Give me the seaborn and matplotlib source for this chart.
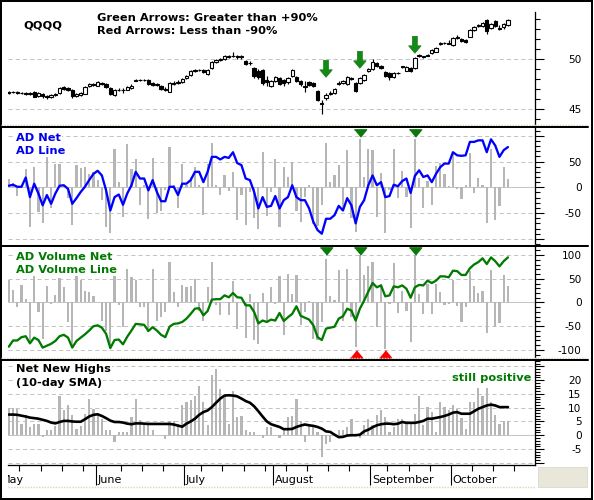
import numpy as np
import matplotlib
matplotlib.use("Agg")
import matplotlib.pyplot as plt
import seaborn as sns
from matplotlib.transforms import blended_transform_factory
from matplotlib.lines import Line2D
from matplotlib.patches import Rectangle
from matplotlib.ticker import MultipleLocator

# ---------------- data (trading days, May 1 2007 = day 0) ----------------
days = list(range(1, 120))

price_open = [
    46.6, 46.7, 46.7, 46.6, 46.6, 46.5, 46.7, 46.3, 46.5, 46.3,
    46.2, 46.4, 46.6, 47.2, 47.1, 46.9, 46.3, 46.4, 46.5, 47.3,
    47.5, 47.3, 47.6, 47.5, 47.1, 46.4, 46.9, 46.9, 46.9, 47.1,
    47.8, 47.9, 47.9, 47.9, 47.6, 47.4, 47.3, 47.0, 46.7, 47.6,
    47.6, 47.7, 48.1, 48.4, 48.8, 48.9, 48.9, 48.5, 49.1, 49.7,
    49.9, 50.0, 50.2, 50.3, 50.3, 50.2, 49.8, 49.6, 49.1, 48.8,
    48.9, 47.9, 47.3, 47.8, 48.1, 47.9, 47.7, 48.3, 48.2, 47.8,
    47.3, 47.7, 47.6, 46.8, 45.5, 46.1, 46.5, 46.6, 47.5, 47.6,
    47.5, 48.1, 47.6, 47.6, 47.9, 48.8, 49.0, 49.6, 49.3, 48.7,
    48.6, 48.2, 48.6, 49.2, 48.8, 49.1, 49.1, 50.3, 50.3, 50.3,
    50.6, 50.7, 51.5, 51.6, 51.5, 51.4, 52.1, 52.0, 51.9, 52.2,
    52.9, 53.3, 53.3, 53.9, 53.1, 53.8, 53.1, 53.2, 53.4]
price_close = [
    46.7, 46.7, 46.6, 46.6, 46.5, 46.6, 46.2, 46.6, 46.3, 46.2,
    46.4, 46.5, 47.1, 47.0, 46.9, 46.3, 46.5, 46.6, 47.2, 47.5,
    47.4, 47.7, 47.5, 47.2, 46.5, 46.9, 46.9, 46.9, 47.2, 47.3,
    47.9, 47.9, 47.9, 47.5, 47.4, 47.5, 47.0, 46.9, 47.6, 47.5,
    47.7, 48.0, 48.3, 48.8, 48.9, 48.9, 48.7, 48.9, 49.7, 49.9,
    50.0, 50.3, 50.3, 50.3, 50.2, 50.3, 49.5, 49.6, 48.3, 48.2,
    47.6, 47.7, 47.8, 48.2, 47.5, 47.6, 48.1, 48.9, 47.8, 47.5,
    47.2, 47.4, 47.3, 45.9, 45.6, 46.4, 46.6, 47.0, 47.6, 47.8,
    48.2, 48.0, 46.8, 48.1, 48.4, 49.0, 49.7, 49.3, 49.1, 48.3,
    48.2, 48.6, 48.6, 49.3, 49.2, 48.8, 50.1, 50.4, 50.2, 50.4,
    50.9, 51.1, 51.6, 51.6, 51.6, 52.1, 52.2, 51.8, 51.7, 52.9,
    53.2, 53.4, 53.6, 52.8, 53.5, 53.3, 53.0, 53.5, 53.9]
price_high = [
    46.8, 46.8, 46.8, 46.7, 46.7, 46.7, 46.8, 46.7, 46.6, 46.4,
    46.5, 46.6, 47.2, 47.3, 47.2, 47.0, 46.6, 46.7, 47.3, 47.6,
    47.6, 47.8, 47.7, 47.6, 47.2, 47.0, 47.1, 47.1, 47.3, 47.5,
    48.0, 48.0, 48.0, 48.0, 47.7, 47.6, 47.4, 47.2, 47.7, 47.8,
    47.9, 48.1, 48.4, 48.9, 49.0, 49.0, 49.0, 49.0, 49.8, 50.0,
    50.1, 50.4, 50.4, 50.7, 50.4, 50.4, 49.9, 49.8, 49.2, 49.0,
    49.0, 48.3, 47.9, 48.3, 48.2, 48.0, 48.2, 49.0, 48.3, 47.9,
    47.8, 47.8, 47.7, 46.9, 45.9, 46.6, 46.8, 47.1, 47.8, 47.9,
    48.3, 48.2, 47.7, 48.2, 48.5, 49.1, 50.0, 49.7, 49.4, 48.8,
    48.7, 48.7, 48.7, 49.3, 49.3, 49.2, 50.2, 50.5, 50.3, 50.5,
    51.0, 51.2, 51.7, 51.7, 51.9, 52.2, 52.4, 52.1, 52.0, 53.0,
    53.3, 53.5, 53.7, 54.0, 53.6, 53.9, 53.4, 53.6, 54.0]
price_low = [
    46.5, 46.6, 46.5, 46.5, 46.4, 46.4, 46.2, 46.2, 46.1, 46.0,
    46.1, 46.3, 46.5, 46.9, 46.8, 46.1, 46.2, 46.3, 46.5, 47.2,
    47.3, 47.3, 47.4, 47.1, 46.4, 46.3, 46.8, 46.6, 46.9, 47.0,
    47.8, 47.8, 47.8, 47.4, 47.3, 47.3, 46.9, 46.8, 46.7, 47.4,
    47.5, 47.6, 48.0, 48.3, 48.7, 48.8, 48.6, 48.4, 49.0, 49.6,
    49.8, 49.9, 50.1, 50.2, 50.0, 50.0, 49.4, 49.4, 48.1, 48.0,
    47.4, 47.3, 47.2, 47.7, 47.4, 47.3, 47.5, 48.2, 47.7, 47.3,
    46.7, 47.3, 47.2, 45.8, 44.5, 45.9, 46.4, 46.5, 47.4, 47.5,
    47.4, 47.9, 46.7, 47.5, 47.8, 48.7, 48.9, 49.2, 49.0, 48.2,
    47.9, 48.1, 48.5, 49.1, 48.8, 48.7, 49.0, 50.2, 50.1, 50.3,
    50.5, 50.7, 51.4, 51.5, 51.5, 51.3, 52.0, 51.7, 51.6, 52.2,
    52.8, 53.2, 53.2, 52.5, 53.0, 53.2, 52.9, 53.0, 53.3]
arrow_tip = [48.2, 49.1, 50.6]

ad_net = [
    16, 8, -17, 3, 35, -77, 40, -48, -70, 62,
    -40, 46, 46, 5, -20, -73, 44, 37, 39, 26,
    30, 15, -25, -77, -88, 75, 10, -57, 83, 35,
    55, -35, 5, -61, 57, -50, -45, -5, 78, 5,
    -41, 45, 5, 20, 40, 5, -53, 45, 85, 5,
    -15, 23, -8, 30, -64, -15, -73, -10, -60, -81,
    68, -55, -10, 55, -77, 40, 20, 50, -45, -67,
    -19, 4, -72, -75, -35, 85, 10, 23, 44, -41,
    72, -59, -86, 93, 20, 75, 72, -57, 28, -88,
    -5, 74, -20, 31, -19, -79, 94, 18, -41, 12,
    -35, 41, 48, 25, 3, 68, -4, -22, 4, 67,
    -12, 18, 5, -70, 75, -64, -36, 39, 16]
ad_line = [
    3, 5, 1, 1, 19, -19, 7, -12, -35, -15,
    -32, -12, 3, 4, -3, -32, -21, -9, 1, 14,
    26, 32, 23, -6, -45, -19, -14, -34, -12, 4,
    30, 17, 17, -6, 14, -9, -27, -27, 1, 1,
    -15, 7, 7, 14, 30, 30, 10, 30, 59, 59,
    54, 59, 57, 68, 47, 43, 17, 14, -9, -41,
    -19, -38, -36, -17, -41, -25, -19, 4, -19, -25,
    -25, -41, -67, -83, -90, -61, -61, -54, -36, -45,
    -21, -35, -70, -38, -25, 4, 23, 4, 10, -19,
    -17, 5, 2, 12, 17, -11, 22, 33, 20, 23,
    10, 26, 39, 46, 46, 68, 62, 61, 62, 88,
    88, 91, 91, 68, 93, 81, 59, 72, 78]

adv_net = [
    48, 27, -10, 37, 8, -87, 58, -20, -76, 34,
    -4, 16, 52, 32, -41, -89, 58, 48, 25, 22,
    13, 2, -38, -59, -89, 58, -6, -51, 71, 53,
    48, -10, -10, -62, 71, -38, -31, -20, 85, 22,
    -10, 36, 32, 34, 50, -17, -38, 32, 85, -6,
    -27, 2, -27, 46, -55, 2, -74, 18, -80, -87,
    20, -38, 32, -3, 55, -69, 60, 18, 57, -48,
    -20, 4, -76, -79, -41, 91, 13, 6, 69, -38,
    71, -31, -93, 99, 57, 76, 85, -51, 39, -98,
    -3, 83, -22, 24, -17, -84, 99, 17, -25, 39,
    -24, 38, 22, -6, -4, 48, -8, -41, -10, 66,
    34, 20, 25, -65, 69, -51, -44, 57, 34]
adv_line = [
    -93, -80, -80, -73, -71, -86, -74, -79, -95, -91,
    -87, -81, -71, -68, -74, -95, -81, -74, -67, -59,
    -50, -48, -53, -66, -96, -79, -78, -88, -72, -59,
    -45, -46, -47, -60, -52, -59, -68, -73, -51, -45,
    -44, -41, -34, -24, -13, -12, -27, -18, 6, 7,
    7, 15, 11, 20, 11, 10, -6, -6, -20, -44,
    -38, -41, -36, -38, -22, -39, -31, -24, -8, -28,
    -32, -36, -48, -73, -79, -55, -53, -51, -34, -29,
    -13, -17, -38, -13, 4, 23, 41, 32, 36, 13,
    15, 34, 32, 36, 29, 10, 32, 37, 36, 46,
    41, 46, 55, 55, 53, 67, 66, 58, 58, 72,
    80, 85, 93, 81, 95, 87, 76, 87, 95]

nnh = [
    10, 10, 9.6, 3.9, 7.5, 3, 3.9, 4.2, -0.6, 1.8,
    1.8, 3.4, 14.2, 9, 10.8, 7.2, 2.2, 3.3, 7.8, 13.3,
    9.6, 7.5, 5.8, 1.8, 1.8, -2.4, 1, 1, 1.2, 6.6,
    13.3, 5.7, 3.6, 3.6, 1.8, 0, 0, -1.2, 5.1, 5.1,
    4.2, 11.1, 12, 12.7, 14.2, 18, 12, 3.6, 22, 24,
    16.9, 14.7, 4.2, 15.9, 6.6, 6.9, 1.8, 1, 1, 0,
    -1, 3, 3, 0, -1, 1.8, 6.6, 7, 13, 5,
    -2.6, 3.6, 3, 1, -7.8, -3, -2.4, 0, 1.8, 1.8,
    3, 6, 0, -1, 3.6, 5.8, 3.6, 7.2, 9, 6.6,
    1, 3, 6, 5.8, 4.2, 4.2, 7.8, 14.2, 3.6, 10.2,
    8.4, 1.2, 12, 10.2, 9, 10.8, 9.6, 6.3, 2.2, 12,
    12, 17.1, 14.2, 17.1, 12, 7.2, 4.2, 5.1, 5.1]
nnh_sma = [
    7.5, 7.5, 7.4, 7.1, 6.8, 6.4, 6.2, 6.0, 5.6, 5.2,
    4.6, 4.3, 4.8, 5.2, 5.2, 5.0, 4.9, 4.9, 5.8, 6.8,
    7.4, 7.6, 7.0, 6.2, 5.3, 4.8, 4.8, 4.6, 4.2, 4.0,
    4.3, 4.3, 4.2, 4.1, 4.1, 4.1, 4.1, 4.1, 4.1, 3.9,
    3.5, 3.1, 4.2, 5.0, 6.0, 7.4, 8.4, 9.0, 10.2, 11.8,
    13.3, 14.4, 14.5, 14.4, 14.1, 13.3, 12.4, 11.8, 10.5, 8.7,
    6.8, 5.0, 4.0, 3.5, 3.0, 2.2, 2.2, 2.3, 3.0, 3.5,
    3.9, 3.6, 3.4, 3.0, 2.4, 1.4, 1.2, 0.2, -0.7, -0.6,
    -0.1, 0, 0, 0.2, 1.4, 2.0, 2.9, 3.6, 4.0, 4.2,
    4.2, 4.0, 4.2, 4.8, 4.5, 4.5, 4.5, 4.8, 5.2, 6.0,
    6.0, 6.3, 6.6, 7.0, 7.5, 8.2, 8.4, 7.8, 7.8, 7.8,
    8.7, 9.6, 10.2, 10.8, 11.1, 10.8, 10.2, 10.2, 10.2]

month_names = ["May", "June", "July", "August", "September", "October"]
month_ticks = [-0.5, 21.5, 42.5, 63.5, 86.5, 105.5]
week_ticks = [3.5, 8.5, 13.5, 18.5, 27.5, 32.5, 37.5, 46.5, 51.5, 56.5, 61.5,
              66.5, 71.5, 76.5, 81.5, 90.5, 95.5, 100.5, 110.5, 115.5, 120.5]

price_labels = [45, 50]
ad_labels = [50, 0, -50]
adv_labels = [100, 50, 0, -50, -100]
nnh_labels = [20, 15, 10, 5, 0, -5]

# ---------------- styling ----------------
sns.set_style("white")
plt.rcParams["font.family"] = ["DejaVu Sans"]
plt.rcParams["lines.scale_dashes"] = False

W, H = 594, 500
PX = 0.72  # points per pixel at 100 dpi
fig = plt.figure(figsize=(W / 100, H / 100), dpi=100)
fig.patch.set_facecolor("white")


def fx(px):
    return px / W


def fy(py):
    return 1 - py / H


AX_L, AX_R = 7.5, 535.0
XMIN, XMAX = 0.69, 125.4


def make_axes(top, bottom, ylim):
    ax = fig.add_axes([fx(AX_L), fy(bottom), fx(AX_R) - fx(AX_L), (bottom - top) / H])
    ax.set_xlim(XMIN, XMAX)
    ax.set_ylim(*ylim)
    ax.set_facecolor("white")
    for s in ["left", "top", "bottom"]:
        ax.spines[s].set_visible(False)
    ax.spines["right"].set_color("black")
    ax.spines["right"].set_linewidth(1.3 * PX)
    ax.yaxis.tick_right()
    ax.tick_params(axis="y", which="major", direction="out", length=9 * PX,
                   width=1.1 * PX, color="black", left=False, right=True,
                   labelleft=False, labelright=False)
    ax.tick_params(axis="y", which="minor", direction="out", length=4.5 * PX,
                   width=1.1 * PX, color="black", left=False, right=True)
    ax.tick_params(axis="x", which="both", bottom=False, top=False,
                   labelbottom=False)
    return ax


GRID = dict(color="#c4c4c4", linewidth=1.0 * PX, linestyle=(0, (3.0, 2.2)), zorder=0.5)
BAR_C = "#b6b6b6"
BAR_W = 0.52


def grid(ax, vals, zero=True):
    for v in vals:
        ax.axhline(v, **GRID)
    if zero:
        ax.axhline(0, color="#c4c4c4", linewidth=1.0 * PX, zorder=0.6)


def right_labels(ax, vals):
    tr = blended_transform_factory(ax.transAxes, ax.transData)
    for v in vals:
        ax.text(1 + 46.5 / (AX_R - AX_L), v, str(v), transform=tr, ha="right",
                va="center_baseline", fontsize=7.6, color="black")


d = np.array(days)

# ---------------- price panel ----------------
ax_p = make_axes(12, 124.7, (43.46, 54.73))
ax_p.yaxis.set_major_locator(MultipleLocator(5))
ax_p.yaxis.set_minor_locator(MultipleLocator(1))
grid(ax_p, [45, 50], zero=False)
o = np.array(price_open)
c = np.array(price_close)
ax_p.vlines(d, price_low, price_high, color="black", linewidth=0.85, zorder=2)
body_bottom = np.minimum(o, c)
body_h = np.maximum(np.abs(c - o), 0.05)
faces = ["white" if cc >= oo else "black" for oo, cc in zip(o, c)]
ax_p.bar(d, body_h, bottom=body_bottom, width=0.78, color=faces,
         edgecolor="black", linewidth=0.8, zorder=3)
right_labels(ax_p, price_labels)

adv_arr = np.array(adv_net)
green_days = d[adv_arr > 90]
red_days = d[adv_arr < -90]
for x, tip in zip(green_days, arrow_tip):
    ax_p.arrow(x, tip + 1.7, 0, -1.7, width=1.2, head_width=3.0,
               head_length=0.75, length_includes_head=True,
               fc="#138a13", ec="#0c6e0c", linewidth=0.4, zorder=5)

# ---------------- AD panel ----------------
ax_a = make_axes(127, 244.5, (-110.9, 116.9))
ax_a.yaxis.set_major_locator(MultipleLocator(50))
ax_a.yaxis.set_minor_locator(MultipleLocator(10))
grid(ax_a, [-100, -50, 50, 100])
ax_a.bar(d, ad_net, width=BAR_W, color=BAR_C, linewidth=0, zorder=1.5)
sns.lineplot(x=d, y=ad_line, ax=ax_a, color="#0000ff", linewidth=1.65,
             zorder=4, estimator=None)
right_labels(ax_a, ad_labels)

tri_down = [(-1, 0.6), (1, 0.6), (0, -0.6)]
tri_up = [(-1, -0.6), (1, -0.6), (0, 0.6)]
ad_green = d[np.array(ad_net) > 90]
ax_a.plot(ad_green, [0.951] * len(ad_green), linestyle="none", marker=tri_down,
          markersize=8.8, color="#0b7a0b",
          transform=blended_transform_factory(ax_a.transData, ax_a.transAxes),
          clip_on=False, zorder=6)

# ---------------- AD volume panel ----------------
ax_v = make_axes(246.5, 357.5, (-115.8, 117.9))
ax_v.yaxis.set_major_locator(MultipleLocator(50))
ax_v.yaxis.set_minor_locator(MultipleLocator(10))
grid(ax_v, [-100, -50, 50, 100])
ax_v.bar(d, adv_net, width=BAR_W, color=BAR_C, linewidth=0, zorder=1.5)
sns.lineplot(x=d, y=adv_line, ax=ax_v, color="#007a00", linewidth=1.65,
             zorder=4, estimator=None)
right_labels(ax_v, adv_labels)
trv = blended_transform_factory(ax_v.transData, ax_v.transAxes)
ax_v.plot(green_days, [0.96] * len(green_days), linestyle="none", marker=tri_down,
          markersize=8.8, color="#0b7a0b", transform=trv, clip_on=False, zorder=6)
ax_v.plot(red_days, [0.036] * len(red_days), linestyle="none", marker=tri_up,
          markersize=8.8, color="#ff0000", transform=trv, clip_on=False, zorder=6)

# ---------------- net new highs panel ----------------
ax_n = make_axes(360, 465, (-10.8, 27.3))
ax_n.yaxis.set_major_locator(MultipleLocator(5))
ax_n.yaxis.set_minor_locator(MultipleLocator(1))
grid(ax_n, [-10, -5, 5, 10, 15, 20, 25])
ax_n.bar(d, nnh, width=BAR_W, color=BAR_C, linewidth=0, zorder=1.5)
sns.lineplot(x=d, y=nnh_sma, ax=ax_n, color="black", linewidth=1.9,
             zorder=4, estimator=None)
right_labels(ax_n, nnh_labels)
ax_n.spines["bottom"].set_visible(True)
ax_n.spines["bottom"].set_color("black")
ax_n.spines["bottom"].set_linewidth(1.3 * PX)
ax_n.set_xticks(month_ticks)
ax_n.set_xticks(week_ticks, minor=True)
ax_n.set_xlim(XMIN, XMAX)
ax_n.tick_params(axis="x", which="major", bottom=True, direction="out",
                 length=20 * PX, width=1.1 * PX, color="black", labelbottom=False)
ax_n.tick_params(axis="x", which="minor", bottom=True, direction="out",
                 length=6 * PX, width=1.1 * PX, color="black")

# date band: its own axes so the first month name is clipped at the left edge
ax_d = fig.add_axes([fx(AX_L), fy(486), fx(AX_R) - fx(AX_L), (486 - 466) / H])
ax_d.set_xlim(XMIN, XMAX)
ax_d.set_ylim(466, 486)
ax_d.invert_yaxis()
ax_d.axis("off")
ax_d.patch.set_alpha(0)
for pos, name in zip(month_ticks, month_names):
    shift = -0.35 if name == "May" else 0.38
    ax_d.text(pos + shift, 483.3, name, ha="left", va="baseline", fontsize=8,
              color="black", clip_on=True)

for a in (ax_p, ax_a, ax_v, ax_n):
    a.set_xlabel("")
    a.set_ylabel("")

# ---------------- figure decorations ----------------
for y_black, y_dot in [(126.7, 124.9), (246.3, 244.7), (360.2, 357.8)]:
    fig.add_artist(Line2D([fx(1), fx(588)], [fy(y_dot), fy(y_dot)],
                          transform=fig.transFigure, color="#d2d2bc",
                          linewidth=1.4 * PX, linestyle=(0, (1, 1))))
    fig.add_artist(Line2D([fx(1), fx(588)], [fy(y_black), fy(y_black)],
                          transform=fig.transFigure, color="black",
                          linewidth=2.0 * PX))
fig.add_artist(Line2D([fx(AX_L), fx(536)], [fy(486.5), fy(486.5)],
                      transform=fig.transFigure, color="#d6d6c0",
                      linewidth=1.4 * PX, linestyle=(0, (1, 1))))
fig.add_artist(Rectangle((fx(537.5), fy(487)), fx(587) - fx(537.5), (487 - 466.5) / H,
                         transform=fig.transFigure, facecolor="#e9e7da",
                         edgecolor="#dcdac8", linewidth=0.6))
fig.add_artist(Rectangle((fx(1), fy(498.5)), fx(591.5) - fx(1), (498.5 - 1) / H,
                         transform=fig.transFigure, fill=False,
                         edgecolor="black", linewidth=2.0 * PX))

BOLD = dict(fontsize=8.2, fontweight="bold", va="baseline",
            bbox=dict(facecolor="white", edgecolor="none", pad=0.8))
fig.text(fx(23), fy(28), "QQQQ", color="black", **BOLD)
fig.text(fx(97), fy(21), "Green Arrows: Greater than +90%", color="black", **BOLD)
fig.text(fx(97), fy(34), "Red Arrows: Less than -90%", color="black", **BOLD)
fig.text(fx(16), fy(141), "AD Net", color="#0000ee", **BOLD)
fig.text(fx(16), fy(154.3), "AD Line", color="#0000ee", **BOLD)
fig.text(fx(16), fy(260), "AD Volume Net", color="#007a00", **BOLD)
fig.text(fx(16), fy(273.3), "AD Volume Line", color="#007a00", **BOLD)
fig.text(fx(16), fy(372), "Net New Highs", color="black", **BOLD)
fig.text(fx(16), fy(385.5), "(10-day SMA)", color="black", **BOLD)
fig.text(fx(531), fy(381), "still positive", color="#007a00", ha="right",
         **BOLD)

fig.savefig("out.png", dpi=100)
